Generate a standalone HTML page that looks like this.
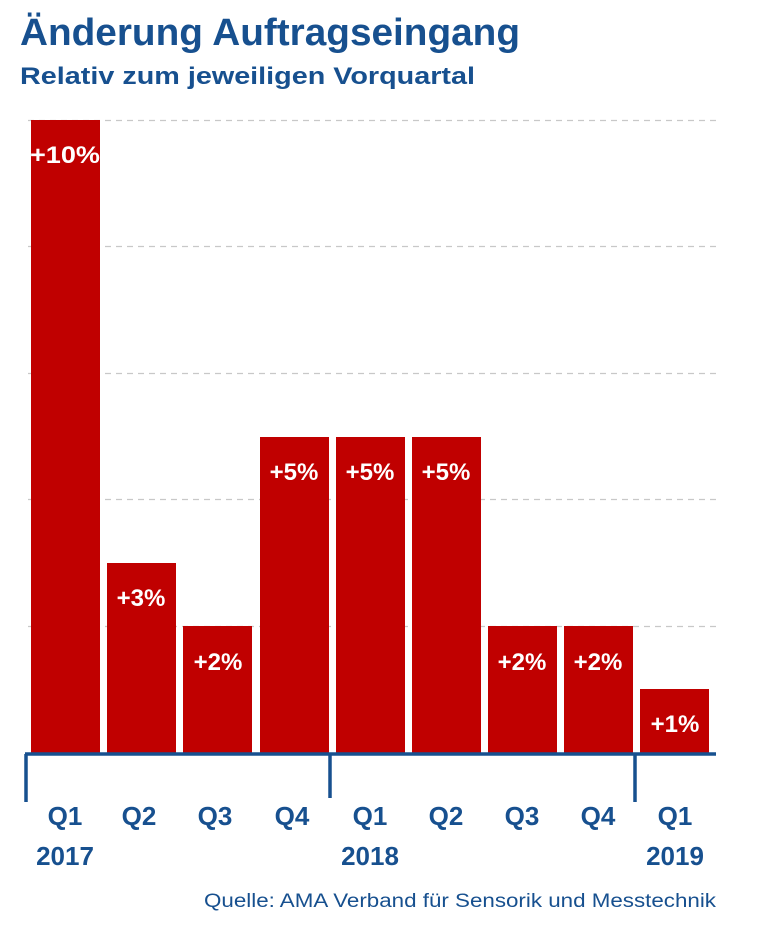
<!DOCTYPE html>
<html><head><meta charset="utf-8"><style>
html,body{margin:0;padding:0;background:#fff;}
svg{display:block;font-family:"Liberation Sans",sans-serif;}
</style></head><body>
<svg width="760" height="935" viewBox="0 0 760 935">
<text x="20" y="45" font-size="38" font-weight="bold" fill="#17508f" textLength="500" lengthAdjust="spacingAndGlyphs">Änderung Auftragseingang</text>
<text x="20" y="84" font-size="24" font-weight="bold" fill="#17508f" textLength="455" lengthAdjust="spacingAndGlyphs">Relativ zum jeweiligen Vorquartal</text>
<g stroke="#c8c8c8" stroke-width="1.3" stroke-dasharray="6,5">
<line x1="28" y1="120.5" x2="716" y2="120.5"/>
<line x1="28" y1="246.5" x2="716" y2="246.5"/>
<line x1="28" y1="373.5" x2="716" y2="373.5"/>
<line x1="28" y1="499.5" x2="716" y2="499.5"/>
<line x1="28" y1="626.5" x2="716" y2="626.5"/>
</g>
<g fill="#c00000">
<rect x="31" y="120" width="69" height="634"/>
<rect x="107" y="563" width="69" height="191"/>
<rect x="183" y="626" width="69" height="128"/>
<rect x="260" y="437" width="69" height="317"/>
<rect x="336" y="437" width="69" height="317"/>
<rect x="412" y="437" width="69" height="317"/>
<rect x="488" y="626" width="69" height="128"/>
<rect x="564" y="626" width="69" height="128"/>
<rect x="640" y="689" width="69" height="65"/>
</g>
<g fill="#fff" font-size="24" font-weight="bold" text-anchor="middle">
<text x="65" y="163" textLength="70" lengthAdjust="spacingAndGlyphs">+10%</text>
<text x="141" y="606">+3%</text>
<text x="218" y="670">+2%</text>
<text x="294" y="480">+5%</text>
<text x="370" y="480">+5%</text>
<text x="446" y="480">+5%</text>
<text x="522" y="670">+2%</text>
<text x="598" y="670">+2%</text>
<text x="675" y="732">+1%</text>
</g>
<g stroke="#17508f" stroke-width="3.5" fill="none">
<line x1="25" y1="754" x2="716" y2="754"/>
<line x1="26" y1="754" x2="26" y2="802"/>
<line x1="330" y1="754" x2="330" y2="798"/>
<line x1="635" y1="754" x2="635" y2="802"/>
</g>
<g fill="#17508f" font-size="26" font-weight="bold" text-anchor="middle">
<text x="65" y="825">Q1</text>
<text x="139" y="825">Q2</text>
<text x="215" y="825">Q3</text>
<text x="292" y="825">Q4</text>
<text x="370" y="825">Q1</text>
<text x="446" y="825">Q2</text>
<text x="522" y="825">Q3</text>
<text x="598" y="825">Q4</text>
<text x="675" y="825">Q1</text>
<text x="65" y="865">2017</text>
<text x="370" y="865">2018</text>
<text x="675" y="865">2019</text>
</g>
<text x="716" y="907" font-size="19" fill="#17508f" text-anchor="end" textLength="512" lengthAdjust="spacingAndGlyphs">Quelle: AMA Verband für Sensorik und Messtechnik</text>
</svg>
</body></html>
